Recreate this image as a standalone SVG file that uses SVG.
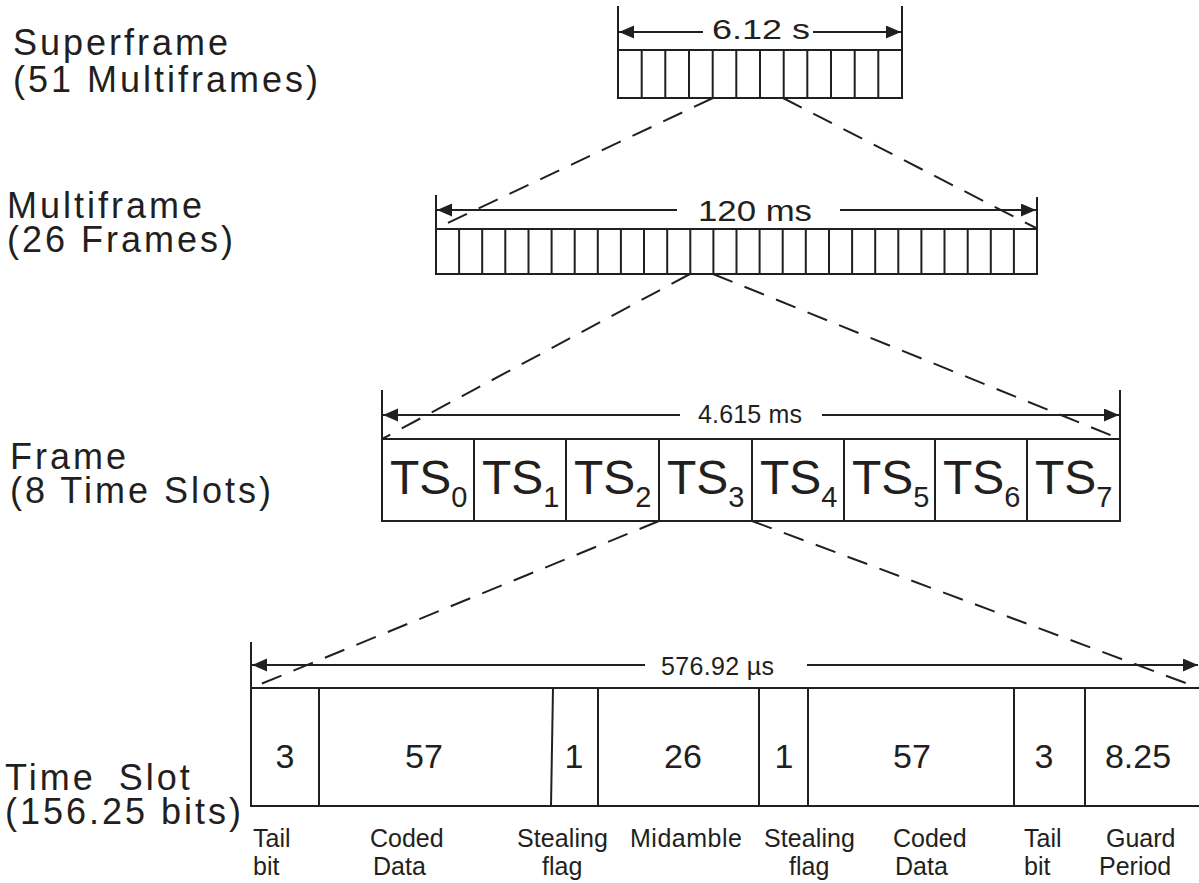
<svg xmlns="http://www.w3.org/2000/svg" width="1199" height="883" viewBox="0 0 1199 883">
<style>
.ln{stroke:#231f20;stroke-width:2;fill:none}
.box{stroke:#231f20;stroke-width:2;fill:#fff}
.dash{stroke:#231f20;stroke-width:2;fill:none;stroke-dasharray:21 13}
text{font-family:"Liberation Sans",Arial,sans-serif;fill:#231f20}
.lbl{font-size:36px;letter-spacing:3px}
.dim{font-size:25px}
.num{font-size:34px;text-anchor:middle}
.ts{font-size:48px}
.sub{font-size:29px}
.cap{font-size:25px}
</style>
<defs>
<marker id="ah" markerUnits="userSpaceOnUse" markerWidth="16" markerHeight="14" refX="15" refY="6.5" orient="auto">
<path d="M0,0 L15,6.5 L0,13 z" fill="#231f20"/>
</marker>
</defs>
<rect width="1199" height="883" fill="#fff"/>

<g id="labels-left">
<text class="lbl" x="13" y="55">Superframe<tspan x="13" dy="37">(51 Multiframes)</tspan></text>
<text class="lbl" x="7" y="218">Multiframe<tspan x="7" dy="34">(26 Frames)</tspan></text>
<text class="lbl" x="10" y="469">Frame<tspan x="10" dy="34">(8 Time Slots)</tspan></text>
<text class="lbl" x="5" y="790"><tspan word-spacing="10">Time Slot</tspan><tspan x="5" dy="34">(156.25 bits)</tspan></text>
</g>

<g id="superframe">
<rect class="box" x="618" y="50" width="284" height="48"/>
<path class="ln" d="M641.7,50V98M665.3,50V98M689,50V98M712.7,50V98M736.3,50V98M760,50V98M783.7,50V98M807.3,50V98M831,50V98M854.7,50V98M878.3,50V98"/>
<path class="ln" d="M618,6V50M902,6V50"/>
<line class="ln" x1="703" y1="32" x2="619" y2="32" marker-end="url(#ah)"/>
<line class="ln" x1="813" y1="32" x2="901" y2="32" marker-end="url(#ah)"/>
<text x="712" y="39" font-size="28" textLength="98" lengthAdjust="spacingAndGlyphs">6.12 s</text>
</g>

<g id="multiframe">
<rect class="box" x="436" y="229" width="601" height="45"/>
<path class="ln" d="M459.1,229V274M482.2,229V274M505.3,229V274M528.5,229V274M551.6,229V274M574.7,229V274M597.8,229V274M620.9,229V274M644,229V274M667.2,229V274M690.3,229V274M713.4,229V274M736.5,229V274M759.6,229V274M782.7,229V274M805.8,229V274M829,229V274M852.1,229V274M875.2,229V274M898.3,229V274M921.4,229V274M944.5,229V274M967.7,229V274M990.8,229V274M1013.9,229V274"/>
<path class="ln" d="M436,195V229M1037,197V229"/>
<line class="ln" x1="677" y1="210" x2="437" y2="210" marker-end="url(#ah)"/>
<line class="ln" x1="840" y1="210" x2="1036" y2="210" marker-end="url(#ah)"/>
<text x="698" y="221" font-size="30" textLength="114" lengthAdjust="spacingAndGlyphs">120 ms</text>
</g>

<g id="frame">
<rect class="box" x="382" y="439" width="738" height="82"/>
<path class="ln" d="M474,439V521M566,439V521M659,439V521M752,439V521M844,439V521M935,439V521M1027,439V521"/>
<path class="ln" d="M382,390V439M1120,390V439"/>
<line class="ln" x1="680" y1="415" x2="383" y2="415" marker-end="url(#ah)"/>
<line class="ln" x1="822" y1="415" x2="1119" y2="415" marker-end="url(#ah)"/>
<text class="dim" x="698" y="423" textLength="104">4.615 ms</text>
<text class="ts" x="390" y="494">TS<tspan class="sub" dy="13">0</tspan></text>
<text class="ts" x="482" y="494">TS<tspan class="sub" dy="13">1</tspan></text>
<text class="ts" x="574" y="494">TS<tspan class="sub" dy="13">2</tspan></text>
<text class="ts" x="667" y="494">TS<tspan class="sub" dy="13">3</tspan></text>
<text class="ts" x="760" y="494">TS<tspan class="sub" dy="13">4</tspan></text>
<text class="ts" x="852" y="494">TS<tspan class="sub" dy="13">5</tspan></text>
<text class="ts" x="943" y="494">TS<tspan class="sub" dy="13">6</tspan></text>
<text class="ts" x="1035" y="494">TS<tspan class="sub" dy="13">7</tspan></text>
</g>

<g id="timeslot">
<rect class="box" x="251" y="688" width="952" height="118"/>
<path class="ln" d="M319,688V806M553,688L551,806M598,688V806M759,688V806M808,688V806M1014,688V806M1085,688V806"/>
<path class="ln" d="M251,642V688"/>
<line class="ln" x1="645" y1="665" x2="252" y2="665" marker-end="url(#ah)"/>
<line class="ln" x1="807" y1="665" x2="1198" y2="665" marker-end="url(#ah)"/>
<text class="dim" x="661" y="675" textLength="113">576.92 µs</text>
<text class="num" x="285" y="768">3</text>
<text class="num" x="424" y="768">57</text>
<text class="num" x="574" y="768">1</text>
<text class="num" x="683" y="768">26</text>
<text class="num" x="784" y="768">1</text>
<text class="num" x="912" y="768">57</text>
<text class="num" x="1044" y="768">3</text>
<text class="num" x="1138" y="768">8.25</text>
</g>

<g id="labels-bottom">
<text class="cap" x="253" y="847">Tail</text>
<text class="cap" x="253" y="875">bit</text>
<text class="cap" x="370" y="847">Coded</text>
<text class="cap" x="373" y="875">Data</text>
<text class="cap" x="517" y="847" textLength="91">Stealing</text>
<text class="cap" x="542" y="875">flag</text>
<text class="cap" x="630" y="847" textLength="112">Midamble</text>
<text class="cap" x="764" y="847" textLength="91">Stealing</text>
<text class="cap" x="789" y="875">flag</text>
<text class="cap" x="893" y="847">Coded</text>
<text class="cap" x="895" y="875">Data</text>
<text class="cap" x="1024" y="847">Tail</text>
<text class="cap" x="1024" y="875">bit</text>
<text class="cap" x="1106" y="847">Guard</text>
<text class="cap" x="1099" y="875">Period</text>
</g>

<g id="connectors">
<line class="dash" x1="713" y1="98" x2="437" y2="228"/>
<line class="dash" x1="783" y1="98" x2="1036" y2="228"/>
<line class="dash" x1="690" y1="274" x2="382" y2="439"/>
<line class="dash" x1="713" y1="274" x2="1120" y2="439"/>
<line class="dash" x1="659" y1="521" x2="251" y2="688"/>
<line class="dash" x1="752" y1="521" x2="1199" y2="688"/>
</g>
</svg>
